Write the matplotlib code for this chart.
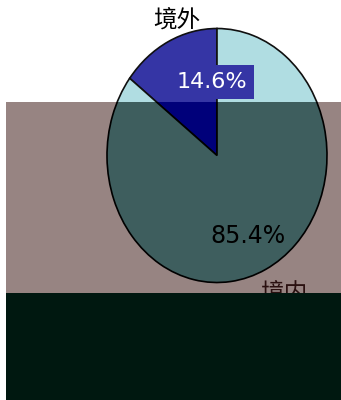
import matplotlib
matplotlib.use("Agg")
import matplotlib.pyplot as plt

labels = ['境外', '境内']
shares = [14.6, 85.4]
pct_text = ['14.6%', '85.4%']

W, H = 341, 400
CX, CY, RX, RY = 217, 155.5, 110, 127


def ux(px):
    return (px - CX) / RX


def uy(py):
    return (CY - py) / RY


def band(fig, x0, y0, x1, y1, bg):
    ax = fig.add_axes([x0 / W, (H - y1) / H, (x1 - x0) / W, (y1 - y0) / H])
    ax.set_facecolor(bg)
    return ax


def finish(ax, x0, y0, x1, y1):
    ax.set_aspect('auto')
    ax.set_frame_on(True)
    for s in ax.spines.values():
        s.set_visible(False)
    ax.set_xticks([])
    ax.set_yticks([])
    ax.set_xlim(ux(x0), ux(x1))
    ax.set_ylim(uy(y1), uy(y0))


cjk = ['Noto Sans CJK SC', 'DejaVu Sans']
fig = plt.figure(figsize=(W / 100, H / 100), dpi=100)

# top band (white)
top = band(fig, 0, 0, W, H, 'white')
top.pie(shares, colors=['#3535a5', '#b0dde2'], startangle=90, counterclock=True,
        wedgeprops=dict(edgecolor='#101010', linewidth=1.2, clip_on=True))
top.text(ux(177), uy(21), labels[0], ha='center', va='center', fontsize=17, family=cjk)
top.text(ux(212), uy(82), pct_text[0], ha='center', va='center', fontsize=16,
         color='white', bbox=dict(boxstyle='square,pad=0.3', fc='#3535a5', ec='none'))
finish(top, 0, 0, W, H)

# middle band (tinted)
mid = band(fig, 6, 102, W, 293, '#978482')
mid.pie(shares, colors=['#00007a', '#3e5e5e'], startangle=90, counterclock=True,
        wedgeprops=dict(edgecolor='black', linewidth=1.2, clip_on=True))
mid.text(ux(248), uy(236), pct_text[1], ha='center', va='center', fontsize=17, color='black')
mid.text(ux(284), uy(294), labels[1], ha='center', va='center', fontsize=17,
         family=cjk, color='#2a1010', clip_on=True)
finish(mid, 6, 102, W, 293)

# bottom band (dark)
bot = band(fig, 6, 293, W, H, '#001810')
finish(bot, 6, 293, W, H)

fig.savefig('out.png', dpi=100)
